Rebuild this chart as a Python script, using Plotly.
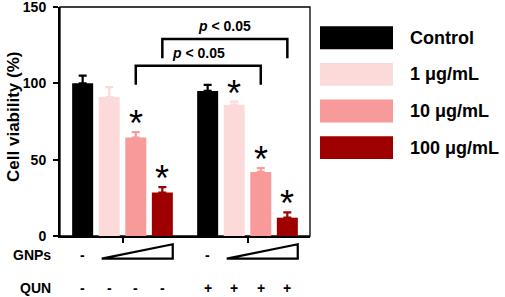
import plotly.graph_objects as go

# ---- data ----
groups = [0, 1]  # QUN - / QUN +
series_names = ["Control", "1 μg/mL", "10 μg/mL", "100 μg/mL"]
series_colors = ["#000000", "#FDDADA", "#F89A9A", "#9E0000"]
control_vals = [100.0, 95.0]
dose1_vals = [91.0, 86.0]
dose10_vals = [64.5, 42.0]
dose100_vals = [28.5, 12.0]
control_err = [5.0, 4.0]
dose1_err = [6.5, 2.0]
dose10_err = [3.5, 2.5]
dose100_err = [3.5, 3.5]
# significance stars (per series, per group)
stars = [[False, False], [False, True], [True, True], [True, True]]
gnps_row = ["-", "-"]  # control column signs for GNPs row
qun_row = ["-", "-", "-", "-", "+", "+", "+", "+"]
# comparisons: (series index, y level, label)
comparisons = [(2, 111.5, "<i>p</i> < 0.05"), (3, 129.0, "<i>p</i> < 0.05")]
y_ticks = [0, 50, 100, 150]

values = [control_vals, dose1_vals, dose10_vals, dose100_vals]
errors = [control_err, dose1_err, dose10_err, dose100_err]

FONT = "Liberation Sans, Arial, sans-serif"
BARGAP = 0.15
BARGROUPGAP = 0.21
n_series = len(series_names)
slot = (1 - BARGAP) / n_series


def bar_x(g, s):
    return groups[g] - (1 - BARGAP) / 2 + slot * (s + 0.5)


fig = go.Figure()
for s in range(n_series):
    fig.add_trace(go.Bar(
        x=groups, y=values[s], name=series_names[s],
        marker=dict(color=series_colors[s], line=dict(width=0)),
        error_y=dict(type="data", array=errors[s], arrayminus=[0] * len(groups),
                     symmetric=False, color=series_colors[s], thickness=2.2, width=4),
        showlegend=False,
    ))

annotations = []
shapes = []

# stars
for s in range(n_series):
    for g in range(len(groups)):
        if stars[s][g]:
            annotations.append(dict(
                x=bar_x(g, s), y=values[s][g] + errors[s][g], xref="x", yref="y",
                text="*", showarrow=False, xanchor="center", yanchor="bottom", yshift=-14,
                font=dict(family=FONT, size=36, color="black"),
            ))

# comparison brackets
for s, ylev, label in comparisons:
    x0, x1 = bar_x(0, s), bar_x(1, s)
    drop = 12.5
    shapes.append(dict(
        type="path", xref="x", yref="y",
        path=f"M {x0},{ylev - drop} L {x0},{ylev} L {x1},{ylev} L {x1},{ylev - drop}",
        line=dict(color="black", width=2.5),
    ))
    annotations.append(dict(
        x=(x0 + x1) / 2, y=ylev, xref="x", yref="y", text=f"<b>{label}</b>",
        showarrow=False, xanchor="center", yanchor="bottom", yshift=3,
        font=dict(family=FONT, size=14, color="black"),
    ))

# GNPs row: sign under control and triangle wedges
for g in range(len(groups)):
    annotations.append(dict(
        x=bar_x(g, 0), y=-0.083, xref="x", yref="paper", text=f"<b>{gnps_row[g]}</b>",
        showarrow=False, xanchor="center", yanchor="middle",
        font=dict(family=FONT, size=14, color="black"),
    ))
    xl = groups[g] - 0.166
    xr = groups[g] + 0.402
    shapes.append(dict(
        type="path", xref="x", yref="paper",
        path=f"M {xl},-0.099 L {xr},-0.099 L {xr},-0.036 Z",
        line=dict(color="black", width=2.2), fillcolor="white",
    ))

# QUN row
k = 0
for g in range(len(groups)):
    for s in range(n_series):
        annotations.append(dict(
            x=bar_x(g, s), y=-0.227, xref="x", yref="paper", text=f"<b>{qun_row[k]}</b>",
            showarrow=False, xanchor="center", yanchor="middle",
            font=dict(family=FONT, size=14, color="black"),
        ))
        k += 1

# row labels
for txt, yy in [("GNPs", -0.083), ("QUN", -0.227)]:
    annotations.append(dict(
        x=-0.028, y=yy, xref="paper", yref="paper", text=f"<b>{txt}</b>",
        showarrow=False, xanchor="right", yanchor="middle",
        font=dict(family=FONT, size=14, color="black"),
    ))

# y title
annotations.append(dict(
    x=-0.184, y=0.52, xref="paper", yref="paper", text="<b>Cell viability (%)</b>",
    textangle=-90, showarrow=False, xanchor="center", yanchor="middle",
    font=dict(family=FONT, size=17, color="black"),
))

# manual legend
for s in range(n_series):
    yc = 0.866 - s * 0.160
    shapes.append(dict(
        type="rect", xref="paper", yref="paper", x0=1.04, x1=1.332,
        y0=yc - 0.05, y1=yc + 0.05, fillcolor=series_colors[s], line=dict(width=0),
    ))
    annotations.append(dict(
        x=1.392, y=yc, xref="paper", yref="paper", text=f"<b>{series_names[s]}</b>",
        showarrow=False, xanchor="left", yanchor="middle",
        font=dict(family=FONT, size=18, color="black"),
    ))

# thin frame top/right
shapes.append(dict(type="rect", xref="paper", yref="paper", x0=0, x1=1, y0=0, y1=1,
                   line=dict(color="black", width=1.3), layer="below"))

fig.update_layout(
    width=505, height=297,
    margin=dict(l=60, r=195, t=7, b=61, autoexpand=False),
    paper_bgcolor="white", plot_bgcolor="white",
    barmode="group", bargap=BARGAP, bargroupgap=BARGROUPGAP,
    font=dict(family=FONT, color="black"),
    annotations=annotations, shapes=shapes,
    xaxis=dict(range=[-0.5, 1.5], tickvals=groups, showticklabels=False,
               ticks="outside", ticklen=5, tickwidth=2, tickcolor="black",
               showline=True, linewidth=2, linecolor="black", showgrid=False, zeroline=False),
    yaxis=dict(range=[0, 150], tickvals=y_ticks, ticktext=[str(t) for t in y_ticks],
               ticks="outside", ticklen=5, tickwidth=2, tickcolor="black",
               tickfont=dict(family=FONT, size=14, color="black", weight="bold"),
               ticklabeloverflow="allow", ticklabelstandoff=4,
               showline=True, linewidth=2, linecolor="black", showgrid=False, zeroline=False),
)

fig.write_html("out.html", config={"displayModeBar": False},
               post_script="document.body.style.margin='0px';document.body.style.padding='0px';")
